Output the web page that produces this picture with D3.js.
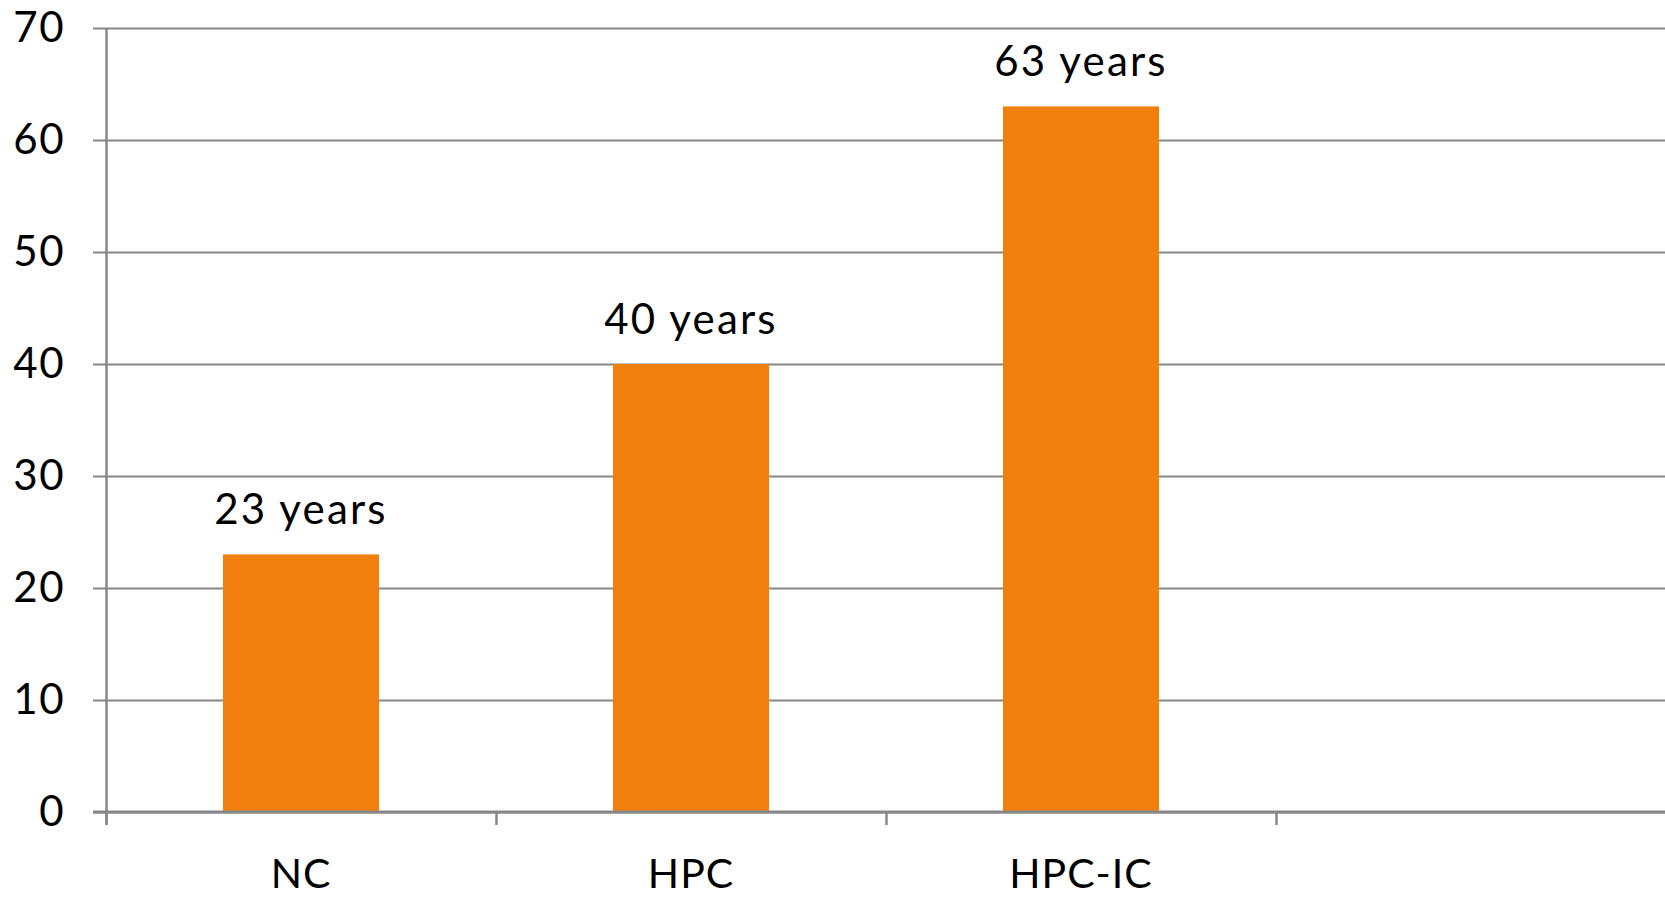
<!DOCTYPE html>
<html>
<head>
<meta charset="utf-8">
<script src="https://cdn.jsdelivr.net/npm/d3@7"></script>
<style>
  html, body { margin: 0; padding: 0; background: #fff; }
  svg text { font-family: Lato, "DejaVu Sans", sans-serif; fill: #000; }
</style>
</head>
<body>
<svg id="chart" width="1665" height="898"></svg>
<script>
// Age at which each cohort is reached
const categories = ["NC", "HPC", "HPC-IC", ""];
const values = [23, 40, 63, null];
const valueLabels = ["23 years", "40 years", "63 years", null];
const yTicks = [0, 10, 20, 30, 40, 50, 60, 70];

const margin = { top: 28, right: -1, bottom: 86, left: 106 };
const svg = d3.select("#chart");
const W = +svg.attr("width") - margin.left - margin.right;
const H = +svg.attr("height") - margin.top - margin.bottom;
const g = svg.append("g").attr("transform", `translate(${margin.left},${margin.top})`);

const x = d3.scaleBand().domain(categories).range([0, W]).paddingInner(0.6).paddingOuter(0.3);
const y = d3.scaleLinear().domain([0, 70]).range([H, 0]);

const gridColor = "#878787";
const fontSize = 42;

// Horizontal gridlines with value labels
const yAxis = g.append("g")
  .call(d3.axisLeft(y).tickValues(yTicks).tickSize(0).tickPadding(41));
yAxis.select(".domain").remove();
yAxis.selectAll(".tick line")
  .attr("x1", -13).attr("x2", W)
  .attr("stroke", gridColor).attr("stroke-width", 2);
yAxis.selectAll(".tick text")
  .style("font-size", fontSize + "px").attr("letter-spacing", 1.5);

// Vertical axis line
g.append("line")
  .attr("x1", 0.5).attr("x2", 0.5).attr("y1", y(70)).attr("y2", H + 13)
  .attr("stroke", gridColor).attr("stroke-width", 2.5);

const rows = categories.map((c, i) => ({ c, v: values[i], label: valueLabels[i] })).filter(d => d.v != null);

// Bars
g.selectAll("rect.bar")
  .data(rows)
  .join("rect")
  .attr("class", "bar")
  .attr("x", d => x(d.c))
  .attr("y", d => y(d.v))
  .attr("width", x.bandwidth())
  .attr("height", d => y(0) - y(d.v))
  .attr("fill", "#F0800B");

// Value labels above bars
g.selectAll("text.val")
  .data(rows)
  .join("text")
  .attr("class", "val")
  .attr("x", d => x(d.c) + x.bandwidth() / 2)
  .attr("y", d => y(d.v) - 30)
  .attr("text-anchor", "middle")
  .attr("letter-spacing", 2.2)
  .style("font-size", fontSize + "px")
  .text(d => d.label);

// Baseline axis with category labels
const xAxis = g.append("g").attr("transform", `translate(0,${H})`)
  .call(d3.axisBottom(x).tickSize(0).tickPadding(47));
xAxis.select(".domain").remove();
xAxis.selectAll(".tick text").style("font-size", "41px").attr("letter-spacing", 1);

g.append("line")
  .attr("x1", -13).attr("x2", W).attr("y1", H).attr("y2", H)
  .attr("stroke", gridColor).attr("stroke-width", 3);

// Category boundary ticks
const bounds = d3.range(categories.length + 1).map(i => i * x.step());
g.selectAll("line.bound")
  .data(bounds)
  .join("line")
  .attr("class", "bound")
  .attr("x1", d => d + 0.5).attr("x2", d => d + 0.5)
  .attr("y1", H).attr("y2", H + 13)
  .attr("stroke", gridColor).attr("stroke-width", 2.5);
</script>
</body>
</html>
